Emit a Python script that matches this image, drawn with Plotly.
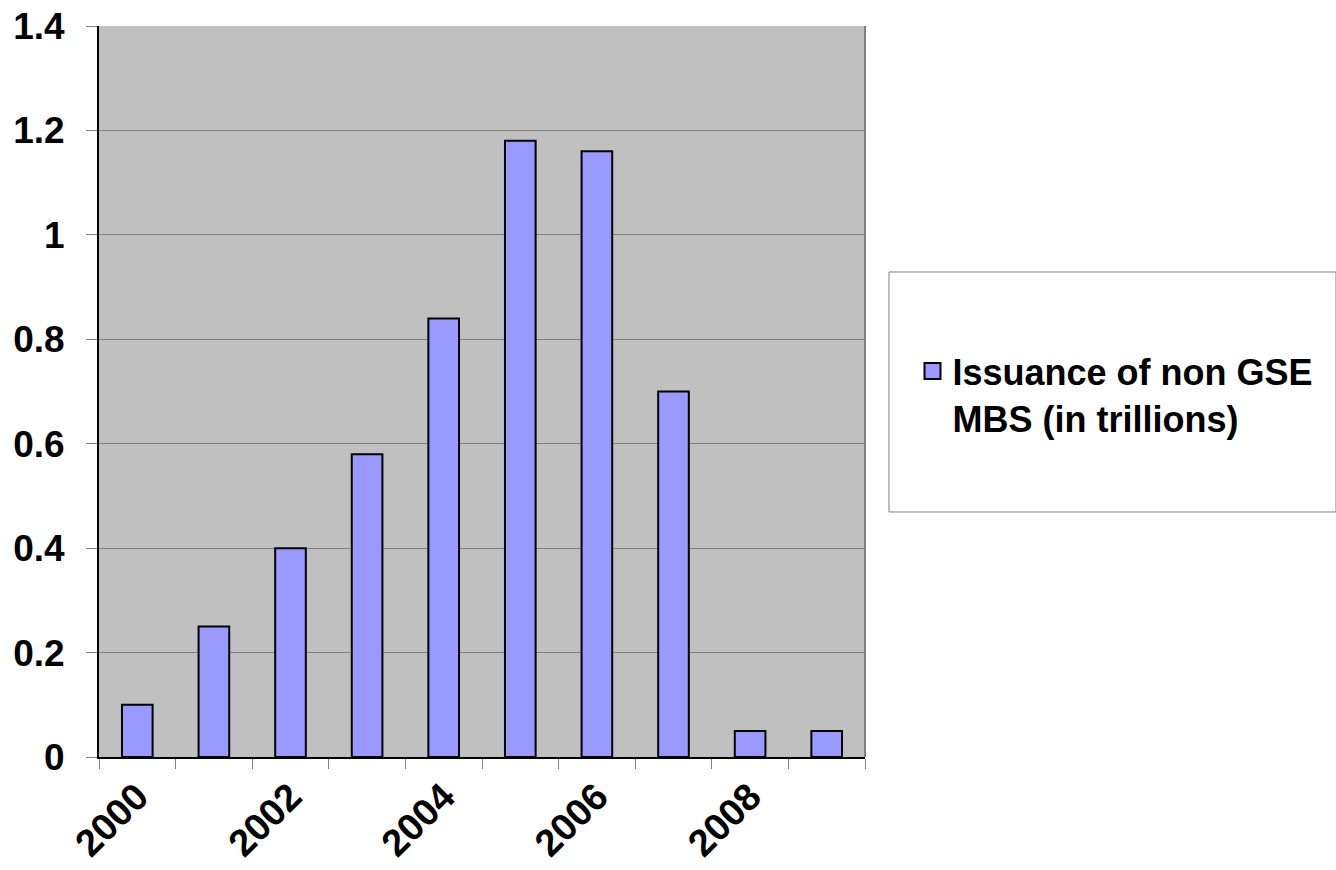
import plotly.graph_objects as go

# Annual issuance of non-GSE mortgage-backed securities
years = [2000, 2001, 2002, 2003, 2004, 2005, 2006, 2007, 2008, 2009]
issuance = [0.10, 0.25, 0.40, 0.58, 0.84, 1.18, 1.16, 0.70, 0.05, 0.05]
label_years = [2000, 2002, 2004, 2006, 2008]
y_ticks = [0, 0.2, 0.4, 0.6, 0.8, 1, 1.2, 1.4]
series_name = "Issuance of non GSE<br>MBS (in trillions)"

FONT = "Liberation Sans, Arial, sans-serif"
BAR_FILL = "#9999FF"

fig = go.Figure()
fig.add_trace(go.Bar(
    x=years,
    y=issuance,
    name=series_name,
    marker=dict(color=BAR_FILL, line=dict(color="#000000", width=2)),
    width=0.4,
    showlegend=False,
    legendgroup="mbs",
))
# Legend entry with a larger square swatch for the bar series
fig.add_trace(go.Scatter(
    x=[None], y=[None],
    mode="markers",
    name=series_name,
    legendgroup="mbs",
    marker=dict(symbol="square", size=18, color=BAR_FILL,
                line=dict(color="#000000", width=2)),
    showlegend=True,
    hoverinfo="skip",
))

fig.update_layout(
    width=1336,
    height=870,
    margin=dict(l=99, r=471, t=26, b=113),
    paper_bgcolor="#FFFFFF",
    plot_bgcolor="#C0C0C0",
    font=dict(family=FONT, size=36, color="#000000"),
    showlegend=True,
    legend=dict(
        x=1.062, y=0.569, xanchor="left", yanchor="top",
        bgcolor="rgba(0,0,0,0)", borderwidth=0,
        font=dict(family=FONT, size=36, color="#000000", weight="bold"),
        valign="top", itemsizing="trace", itemwidth=30,
    ),
    shapes=[
        # legend frame
        dict(type="rect", xref="paper", yref="paper",
             x0=1.0313, x1=1.6149, y0=0.3352, y1=0.6635,
             line=dict(color="#808080", width=1), fillcolor="rgba(0,0,0,0)",
             layer="below"),
        # right edge of plot area
        dict(type="line", xref="paper", yref="paper",
             x0=1, x1=1, y0=0, y1=1,
             line=dict(color="#808080", width=2)),
    ],
)

fig.update_xaxes(
    range=[1999.5, 2009.5],
    tickmode="array",
    tickvals=label_years,
    ticktext=[str(v) for v in label_years],
    tickangle=-45,
    ticks="",
    ticklabelstandoff=0,
    tickfont=dict(family=FONT, size=38, color="#000000", weight="bold"),
    showgrid=False,
    zeroline=False,
    automargin=False,
    showline=True, linecolor="#000000", linewidth=2,
    minor=dict(
        tickmode="array",
        tickvals=[y - 0.5 for y in years] + [years[-1] + 0.5],
        ticks="outside", ticklen=10, tickcolor="#808080", tickwidth=1,
        showgrid=False,
    ),
)

fig.update_yaxes(
    range=[0, 1.4],
    tickmode="array",
    tickvals=y_ticks,
    ticktext=[f"{v:g}" for v in y_ticks],
    ticks="outside", ticklen=11, tickcolor="#808080", tickwidth=1,
    ticklabelstandoff=14,
    tickfont=dict(family=FONT, size=37, color="#000000", weight="bold"),
    showgrid=True, gridcolor="#808080", gridwidth=1,
    zeroline=False,
    automargin=False,
    showline=True, linecolor="#000000", linewidth=2,
)

fig.write_html("out.html")
